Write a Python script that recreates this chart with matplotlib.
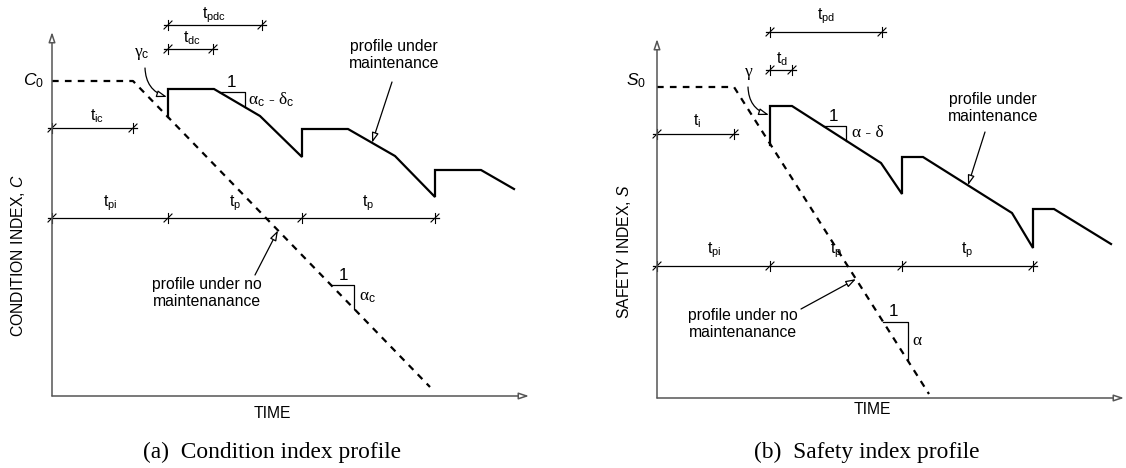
import numpy as np
import matplotlib
matplotlib.use("Agg")
import matplotlib.pyplot as plt
from matplotlib.patches import FancyArrowPatch

plt.rcParams["font.family"] = ["Liberation Sans", "DejaVu Sans"]
plt.rcParams["mathtext.fontset"] = "custom"
plt.rcParams["mathtext.rm"] = "Liberation Sans"
plt.rcParams["mathtext.it"] = "Liberation Sans:italic"
plt.rcParams["mathtext.bf"] = "Liberation Sans:bold"

# ---- panel (a): condition index (time, index) in schematic units ----
A_NOMAINT_T = [0, 81, 378]
A_NOMAINT_C = [315, 315, 9]
A_MAINT_T = [116, 116, 162, 208, 250, 250, 296, 343, 383, 383, 429, 462]
A_MAINT_C = [279, 307, 307, 280, 239, 267, 267, 240, 199, 226, 226, 207]
A_CYCLES = [0, 116, 250, 383]
A_T_IC = 81
A_T_DC = 45
A_T_PDC = 94

# ---- panel (b): safety index ----
B_NOMAINT_T = [0, 77, 272]
B_NOMAINT_S = [311, 311, 4]
B_MAINT_T = [113, 113, 135, 224, 245, 245, 266, 355, 376, 376, 397, 454]
B_MAINT_S = [253, 292, 292, 235, 204, 241, 241, 185, 150, 189, 189, 154]
B_CYCLES = [0, 113, 245, 376]
B_T_I = 77
B_T_D = 22
B_T_PD = 112

AXIS_COLOR = "#555555"
LINE_KW = dict(color="black", lw=1.6, solid_joinstyle="miter")
DASH_KW = dict(color="black", lw=1.6, dashes=(3.0, 2.8))
TXT = 11.3
GREEK = dict(family=["Liberation Serif", "DejaVu Serif"], fontsize=12.5)
CAPTION = dict(family=["Liberation Serif"], fontsize=16.8, ha="center", va="center")


def arrow(ax, start, end, color="black", lw=0.9, rad=0.0):
    patch = FancyArrowPatch(
        start, end,
        arrowstyle="-|>,head_length=0.6,head_width=0.2",
        connectionstyle=f"arc3,rad={rad}",
        mutation_scale=10, color=color, lw=lw,
        shrinkA=0, shrinkB=0, zorder=4,
    )
    patch.set_facecolor("white")
    ax.add_patch(patch)


def dim_line(ax, t0, t_marks, y):
    ax.plot([t0 - 4, t_marks[-1] + 4], [y, y], color="black", lw=0.9)
    for t in t_marks:
        ax.plot([t, t], [y - 5, y + 5], color="black", lw=0.8)
        ax.plot([t - 4, t + 4], [y - 4, y + 4], color="black", lw=0.8)


def slope_triangle(ax, tt, yy, t0, t1):
    y0 = np.interp(t0, tt, yy)
    y1 = np.interp(t1, tt, yy)
    ax.plot([t0, t1, t1], [y0, y0, y1], color="black", lw=0.9)
    return y0, y1


def draw_axes(ax, xmax, ymax):
    arrow(ax, (0, 0), (0, ymax), color=AXIS_COLOR, lw=1.1)
    arrow(ax, (0, 0), (xmax, 0), color=AXIS_COLOR, lw=1.1)


def on_segment(tt, yy, t):
    return float(np.interp(t, tt, yy))


fig = plt.figure(figsize=(11.26, 4.68), dpi=100)

# ================= panel (a) =================
ax = fig.add_axes([0, 0, 560 / 1126, 1])
ax.set_xlim(-52, 508)
ax.set_ylim(-72, 396)
ax.axis("off")

draw_axes(ax, 477, 364)
ax.plot(A_NOMAINT_T, A_NOMAINT_C, **DASH_KW)
ax.plot(A_MAINT_T, A_MAINT_C, **LINE_KW)

dim_line(ax, 0, A_CYCLES, 178)
dim_line(ax, 0, [0, A_T_IC], 268)
dim_line(ax, A_CYCLES[1], [A_CYCLES[1], A_CYCLES[1] + A_T_DC], 347)
dim_line(ax, A_CYCLES[1], [A_CYCLES[1], A_CYCLES[1] + A_T_PDC], 371)

ax.text(-19, 315, "$C_0$", fontsize=12.5, ha="center", va="center")
ax.text(162, 381, "t$_{\\mathrm{pdc}}$", fontsize=TXT, ha="center", va="center")
ax.text(140, 358, "t$_{\\mathrm{dc}}$", fontsize=TXT, ha="center", va="center")
ax.text(45, 280, "t$_{\\mathrm{ic}}$", fontsize=TXT, ha="center", va="center")
ax.text(58, 193, "t$_{\\mathrm{pi}}$", fontsize=TXT, ha="center", va="center")
for lo, hi in zip(A_CYCLES[1:-1], A_CYCLES[2:]):
    ax.text((lo + hi) / 2, 193, "t$_{\\mathrm{p}}$", fontsize=TXT, ha="center", va="center")

ax.text(90, 342, "γ$_{\\mathrm{c}}$", ha="center", va="center", **GREEK)
arrow(ax, (93, 328), (115, 299), rad=0.35)

seg_t, seg_c = A_MAINT_T[2:4], A_MAINT_C[2:4]
y0, y1 = slope_triangle(ax, seg_t, seg_c, 167, 193)
ax.text(180, y0 + 9, "1", fontsize=TXT + 1, ha="center", va="center")
ax.text(196, (y0 + y1) / 2, "α$_{\\mathrm{c}}$ - δ$_{\\mathrm{c}}$", ha="left", va="center", **GREEK)

y0, y1 = slope_triangle(ax, A_NOMAINT_T[1:], A_NOMAINT_C[1:], 279, 302)
ax.text(291, y0 + 9, "1", fontsize=TXT + 1, ha="center", va="center")
ax.text(307, (y0 + y1) / 2, "α$_{\\mathrm{c}}$", ha="left", va="center", **GREEK)

ax.text(342, 341, "profile under\nmaintenance", fontsize=TXT, ha="center", va="center")
arrow(ax, (340, 314), (320, on_segment(A_MAINT_T[6:8], A_MAINT_C[6:8], 320)))
ax.text(155, 103, "profile under no\nmaintenanance", fontsize=TXT, ha="center", va="center")
arrow(ax, (203, 121), (226, on_segment(A_NOMAINT_T[1:], A_NOMAINT_C[1:], 226)))

ax.text(220, -17, "TIME", fontsize=TXT, ha="center", va="center")
ax.text(-34, 141, "CONDITION INDEX, $C$", fontsize=TXT, ha="center", va="center", rotation=90)
ax.text(220, -56, "(a)  Condition index profile", **CAPTION)

# ================= panel (b) =================
ax = fig.add_axes([560 / 1126, 0, 566 / 1126, 1])
ax.set_xlim(-97, 469)
ax.set_ylim(-70, 398)
ax.axis("off")

draw_axes(ax, 467, 359)
ax.plot(B_NOMAINT_T, B_NOMAINT_S, **DASH_KW)
ax.plot(B_MAINT_T, B_MAINT_S, **LINE_KW)

dim_line(ax, 0, B_CYCLES, 132)
dim_line(ax, 0, [0, B_T_I], 264)
dim_line(ax, B_CYCLES[1], [B_CYCLES[1], B_CYCLES[1] + B_T_D], 328)
dim_line(ax, B_CYCLES[1], [B_CYCLES[1], B_CYCLES[1] + B_T_PD], 366)

ax.text(-21, 317, "$S_0$", fontsize=12.5, ha="center", va="center")
ax.text(169, 382, "t$_{\\mathrm{pd}}$", fontsize=TXT, ha="center", va="center")
ax.text(125, 339, "t$_{\\mathrm{d}}$", fontsize=TXT, ha="center", va="center")
ax.text(40, 277, "t$_{\\mathrm{i}}$", fontsize=TXT, ha="center", va="center")
ax.text(57, 148, "t$_{\\mathrm{pi}}$", fontsize=TXT, ha="center", va="center")
for lo, hi in zip(B_CYCLES[1:-1], B_CYCLES[2:]):
    ax.text((lo + hi) / 2, 148, "t$_{\\mathrm{p}}$", fontsize=TXT, ha="center", va="center")

ax.text(92, 326, "γ", ha="center", va="center", **GREEK)
arrow(ax, (91, 311), (112, 283), rad=0.35)

seg_t, seg_s = B_MAINT_T[2:4], B_MAINT_S[2:4]
y0, y1 = slope_triangle(ax, seg_t, seg_s, 166, 189)
ax.text(176, y0 + 9, "1", fontsize=TXT + 1, ha="center", va="center")
ax.text(195, (y0 + y1) / 2, "α - δ", ha="left", va="center", **GREEK)

y0, y1 = slope_triangle(ax, B_NOMAINT_T[1:], B_NOMAINT_S[1:], 226, 251)
ax.text(237, y0 + 10, "1", fontsize=TXT + 1, ha="center", va="center")
ax.text(255, (y0 + y1) / 2, "α", ha="left", va="center", **GREEK)

ax.text(336, 290, "profile under\nmaintenance", fontsize=TXT, ha="center", va="center")
arrow(ax, (328, 266), (311, on_segment(B_MAINT_T[6:8], B_MAINT_S[6:8], 311)))
ax.text(86, 74, "profile under no\nmaintenanance", fontsize=TXT, ha="center", va="center")
arrow(ax, (144, 89), (199, on_segment(B_NOMAINT_T[1:], B_NOMAINT_S[1:], 199)))

ax.text(215, -12, "TIME", fontsize=TXT, ha="center", va="center")
ax.text(-33, 146, "SAFETY INDEX, $S$", fontsize=TXT, ha="center", va="center", rotation=90)
ax.text(210, -54, "(b)  Safety index profile", **CAPTION)

fig.savefig("out.png", dpi=100)
